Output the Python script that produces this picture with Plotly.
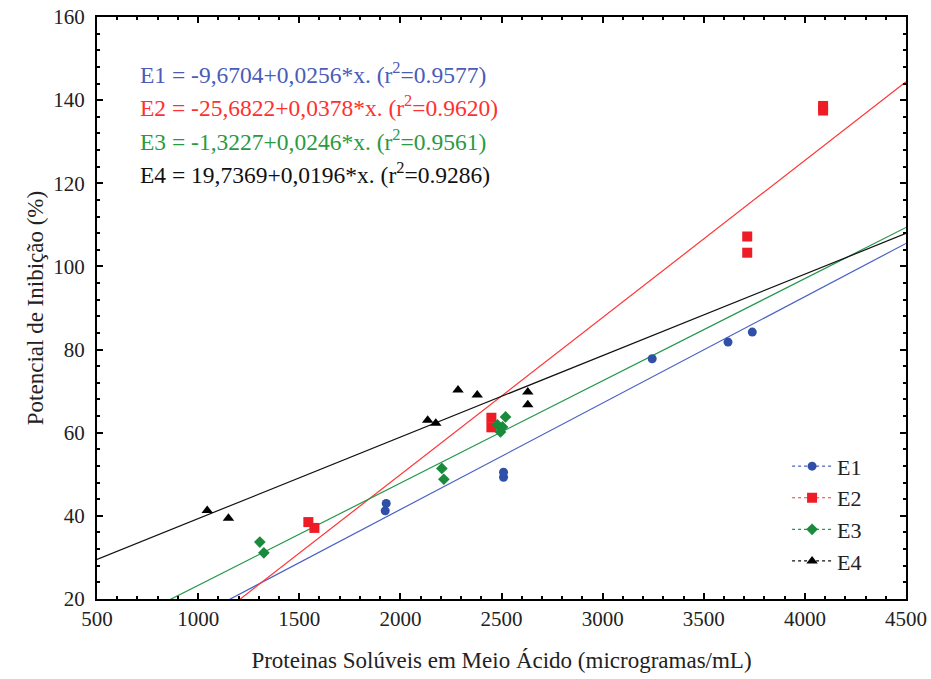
import plotly.graph_objects as go

# ---- data ----
e1_x = [1925, 1930, 2510, 2510, 3245, 3620, 3740]
e1_y = [41.2, 43.0, 49.3, 50.5, 77.8, 81.8, 84.2]

e2_x = [1545, 1575, 2450, 2450, 3715, 3715, 4090, 4090]
e2_y = [38.5, 37.1, 61.3, 63.6, 103.3, 107.2, 137.5, 138.6]

e3_x = [1305, 1325, 2205, 2215, 2480, 2495, 2505, 2520]
e3_y = [33.7, 31.1, 51.4, 48.8, 61.9, 60.2, 61.4, 63.8]

e4_x = [1045, 1150, 2135, 2175, 2285, 2380, 2630, 2630]
e4_y = [41.3, 39.4, 63.0, 62.3, 70.3, 69.1, 69.8, 66.7]

names = ["E1", "E2", "E3", "E4"]
intercepts = [-9.6704, -25.6822, -1.3227, 19.7369]
slopes = [0.0256, 0.0378, 0.0246, 0.0196]
eq_texts = [
    "E1 = -9,6704+0,0256*x. (r<sup>2</sup>=0.9577)",
    "E2 = -25,6822+0,0378*x. (r<sup>2</sup>=0.9620)",
    "E3 = -1,3227+0,0246*x. (r<sup>2</sup>=0.9561)",
    "E4 = 19,7369+0,0196*x. (r<sup>2</sup>=0.9286)",
]
x_range = [500, 4500]
y_range = [20, 160]

# ---- styles ----
line_colors = ["#4a62c4", "#ff3535", "#23964a", "#111111"]
marker_colors = ["#2f4fa8", "#ee1c24", "#1a8a3c", "#000000"]
text_colors = ["#4a5cb8", "#ff3030", "#2a9a40", "#111111"]
symbols = ["circle", "square", "diamond", "triangle-up"]
sizes = [9, 10, 9, 10]
FONT = "Liberation Serif, Times New Roman, serif"

fig = go.Figure()
data = [(e1_x, e1_y), (e2_x, e2_y), (e3_x, e3_y), (e4_x, e4_y)]
for i, (xs, ys) in enumerate(data):
    fx = x_range
    fy = [intercepts[i] + slopes[i] * v for v in fx]
    fig.add_trace(go.Scatter(
        x=fx, y=fy, mode="lines", showlegend=False,
        line=dict(color=line_colors[i], width=1.2), hoverinfo="skip"))
for i, (xs, ys) in enumerate(data):
    fig.add_trace(go.Scatter(
        x=xs, y=ys, mode="markers", name=names[i], showlegend=False,
        marker=dict(symbol=symbols[i], color=marker_colors[i], size=sizes[i],
                    line=dict(width=0))))

# legend entries with line + marker
for i in range(4):
    fig.add_trace(go.Scatter(
        x=[None], y=[None], mode="lines+markers", name=names[i],
        line=dict(color=line_colors[i], width=1.2, dash="dot"),
        marker=dict(symbol=symbols[i], color=marker_colors[i], size=sizes[i])))

for i, t in enumerate(eq_texts):
    fig.add_annotation(
        x=0.051, y=0.904 - i * 0.0573, xref="paper", yref="paper",
        xanchor="left", yanchor="middle", showarrow=False, text=t,
        font=dict(family=FONT, size=23.5, color=text_colors[i]))

axis_common = dict(
    showline=True, linecolor="black", linewidth=2, mirror="allticks",
    ticks="inside", ticklen=6, tickwidth=1.5, tickcolor="black",
    showgrid=False, zeroline=False, automargin=False,
    tickfont=dict(family=FONT, size=21, color="#222"),
)
fig.update_xaxes(range=x_range, dtick=500, tick0=500,
                 minor=dict(dtick=100, ticks="inside", ticklen=3, tickcolor="black"),
                 title=dict(text="Proteinas Solúveis em Meio Ácido (microgramas/mL)",
                            font=dict(family=FONT, size=23, color="#222"), standoff=22),
                 **axis_common)
fig.update_yaxes(range=y_range, dtick=20, tick0=20,
                 minor=dict(dtick=4, ticks="inside", ticklen=3, tickcolor="black"),
                 title=dict(text="Potencial de Inibição (%)",
                            font=dict(family=FONT, size=23, color="#222"), standoff=3),
                 ticklabelstandoff=6,
                 **axis_common)

fig.update_layout(
    width=931, height=679,
    margin=dict(l=97, r=25, t=17, b=80),
    plot_bgcolor="white", paper_bgcolor="white",
    font=dict(family=FONT, color="#222"),
    legend=dict(x=0.853, y=0.264, xanchor="left", yanchor="top",
                bgcolor="rgba(0,0,0,0)", font=dict(family=FONT, size=22, color="#222"),
                itemwidth=40, tracegroupgap=1),
)
fig.write_html("out.html")
